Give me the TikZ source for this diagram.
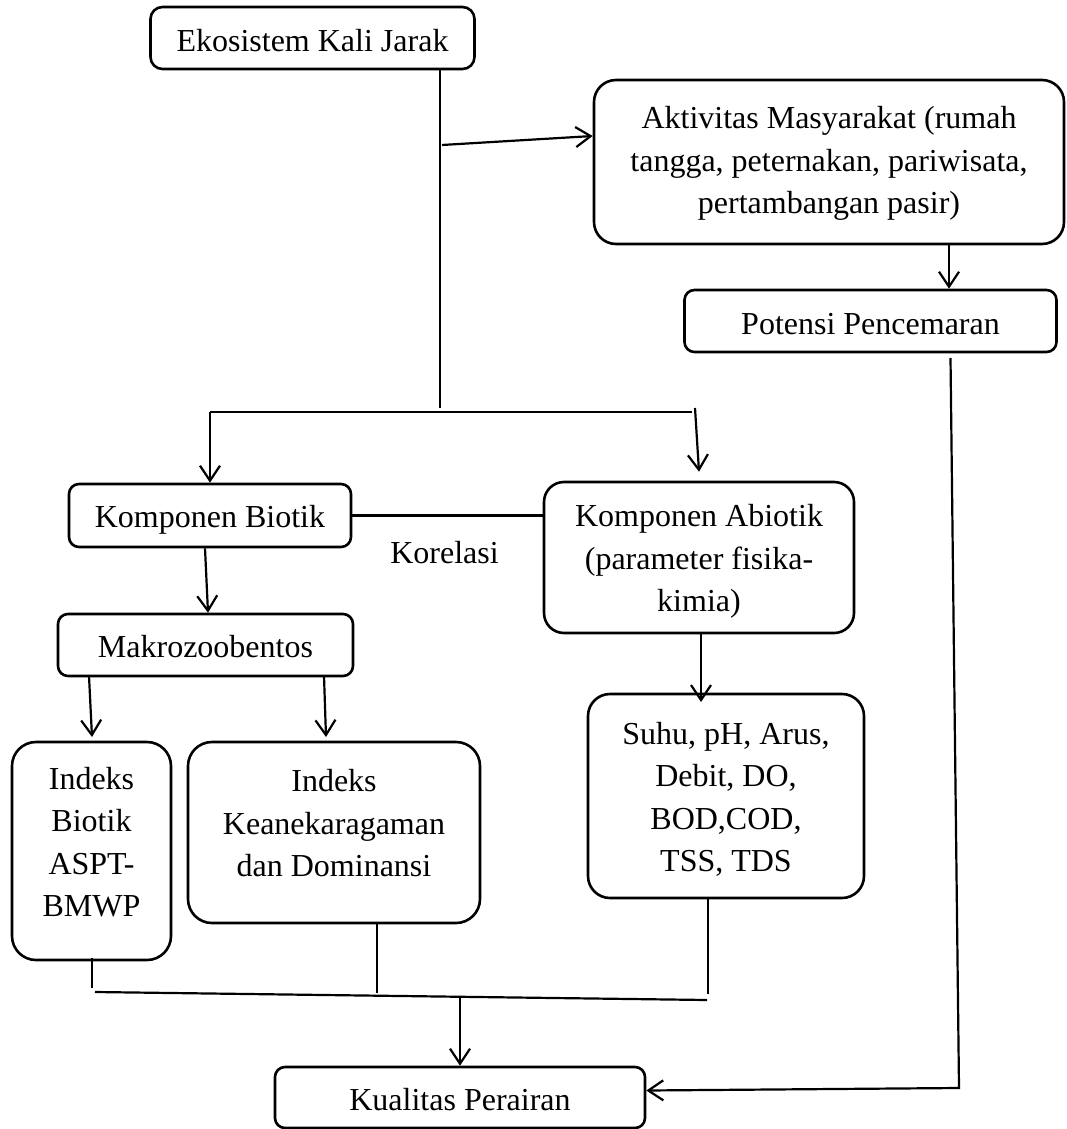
\documentclass[tikz,border=0pt]{standalone}
\usepackage{fontspec}
\setmainfont{Liberation Serif}
\usetikzlibrary{arrows.meta}
\newcommand\myTop{\rule{0pt}{30pt}}
\newcommand\myBot[1]{\rule[-#1]{0pt}{0pt}}
\begin{document}
\begin{tikzpicture}[x=1pt,y=-1pt,
  rbox/.style={draw, line width=2.6pt, rounded corners=#1, align=center, inner sep=0pt,
               font=\fontsize{32}{42.5}\selectfont},
  conn/.style={line width=2.2pt},
  arr/.style={conn, -{Straight Barb[length=15pt,width=20pt]}}]
\useasboundingbox (0,0) rectangle (1066,1129);

% boxes
\node[rbox=12pt, minimum width=324pt, minimum height=62pt] (eko) at (312.5,38)
  {\myTop Ekosistem Kali Jarak\myBot{2pt}};
\node[rbox=22pt, minimum width=470pt, minimum height=164pt] (akt) at (829,162)
  {\myTop Aktivitas Masyarakat (rumah\\tangga, peternakan, pariwisata,\\pertambangan pasir)\myBot{12pt}};
\node[rbox=10pt, minimum width=372pt, minimum height=62pt] (pot) at (870.5,321)
  {\myTop Potensi Pencemaran\myBot{4pt}};
\node[rbox=10pt, minimum width=282pt, minimum height=63pt] (bio) at (210,515.5)
  {\myTop Komponen Biotik\myBot{7pt}};
\node[rbox=20pt, minimum width=310pt, minimum height=151pt] (abio) at (699,557.5)
  {\myTop Komponen Abiotik\\(parameter fisika-\\kimia)\myBot{2pt}};
\node[rbox=10pt, minimum width=295pt, minimum height=62pt] (makro) at (205.5,645)
  {\myTop Makrozoobentos\myBot{6pt}};
\node[rbox=24pt, minimum width=159pt, minimum height=218pt] (ib) at (91.5,851)
  {\myTop Indeks\\Biotik\\ASPT-\\BMWP\myBot{26pt}};
\node[rbox=24pt, minimum width=292pt, minimum height=181pt] (ik) at (334,832.5)
  {\myTop Indeks\\Keanekaragaman\\dan Dominansi\myBot{27pt}};
\node[rbox=22pt, minimum width=276pt, minimum height=204pt] (suhu) at (726,796)
  {\myTop Suhu, pH, Arus,\\Debit, DO,\\BOD,COD,\\TSS, TDS\myBot{6pt}};
\node[rbox=10pt, minimum width=370pt, minimum height=61pt] (kual) at (460,1097.5)
  {\myTop Kualitas Perairan\myBot{5pt}};
\node[font=\fontsize{32}{42.5}\selectfont, anchor=base, inner sep=0pt] (kor) at (444.5,563) {Korelasi};

% junction coordinates
\coordinate (t0) at (440,408);
\coordinate (a1) at (442,145);
\coordinate (sL) at (210,412);
\coordinate (sR) at (692,412);
\coordinate (rd) at (695,408);
\coordinate (x949) at (949,300);
\coordinate (p1) at (950.5,358);
\coordinate (p2) at (959,1088);
\coordinate (m1) at (89,676);
\coordinate (m1e) at (92,737);
\coordinate (m2) at (324,676);
\coordinate (m2e) at (326,737);
\coordinate (s1) at (701,702);
\coordinate (q1) at (92,988);
\coordinate (q2) at (377,993);
\coordinate (q3) at (708,994);
\coordinate (h1) at (95,992);
\coordinate (h2) at (707,1000);
\coordinate (h3) at (460,997);

% connectors
\draw[conn] (t0 |- eko.south) -- (t0);
\draw[arr] (a1) -- ([yshift=26pt]akt.west);
\draw[conn] (sL) -- (sR);
\draw[arr] (sL) -- (bio.north);
\draw[arr] (rd) -- ([yshift=9pt]abio.north);
\draw[conn] (bio.east) -- (bio.east -| abio.west);
\draw[arr] ([xshift=-5pt]bio.south) -- ([xshift=2.5pt]makro.north);
\draw[arr] (m1) -- (m1e);
\draw[arr] (m2) -- (m2e);
\draw[arr] (abio.south -| s1) -- (s1);
\draw[arr] (akt.south -| x949) -- (pot.north -| x949);
\draw[arr] (p1) -- (p2) -- ([yshift=7pt]kual.east);
\draw[conn] ([yshift=3pt]ib.south -| q1) -- (q1);
\draw[conn] (ik.south -| q2) -- (q2);
\draw[conn] (suhu.south -| q3) -- (q3);
\draw[conn] (h1) -- (h2);
\draw[arr] (h3) -- (kual.north);
\end{tikzpicture}
\end{document}
